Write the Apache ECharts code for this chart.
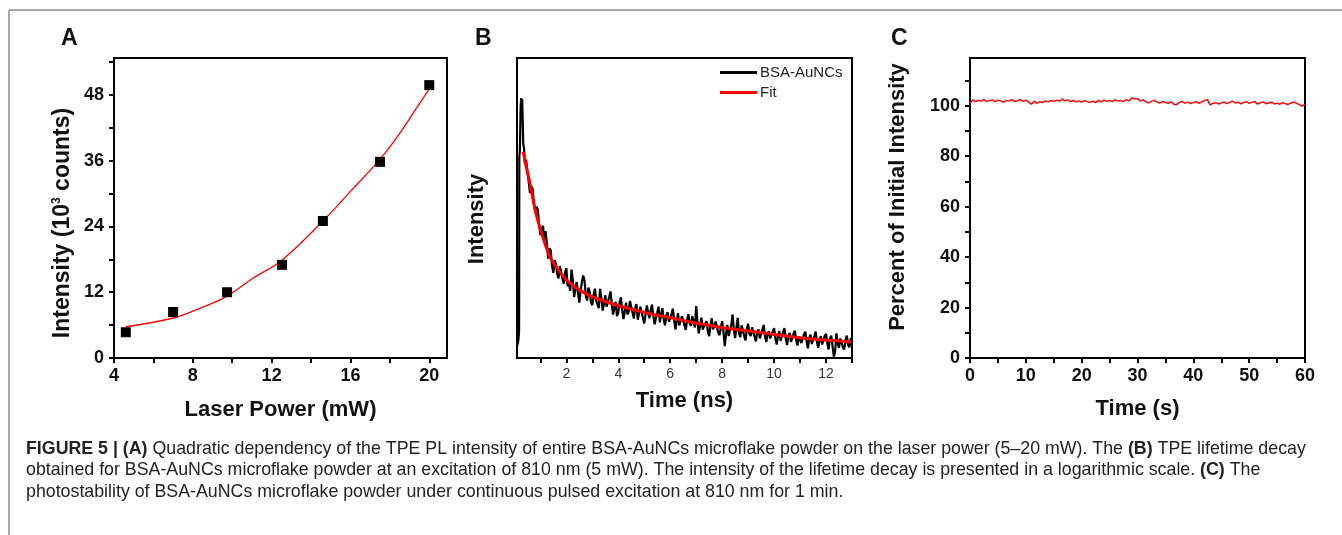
<!DOCTYPE html>
<html>
<head>
<meta charset="utf-8">
<script src="https://cdn.jsdelivr.net/npm/echarts@6/dist/echarts.min.js"></script>
<style>
html,body{margin:0;padding:0;background:#fff;}
#chart{width:1342px;height:535px;}
</style>
</head>
<body>
<div id="chart"></div>
<script>
// ---------- Panel A ----------
const powerA = [4.6, 7.0, 9.74, 12.53, 14.6, 17.5, 20.0];
const intensityA = [4.7, 8.4, 12.0, 17.0, 25.0, 35.8, 49.8];
const fitPowerA = [4.6, 7.0, 8.37, 9.74, 11.07, 12.5, 14.6, 16.0, 17.5, 18.5, 19.35, 20.0];
const fitIntensityA = [5.7, 7.3, 9.1, 11.3, 14.6, 17.8, 25.0, 30.4, 36.3, 41.0, 45.6, 49.1];
const ticksAx = [4, 8, 12, 16, 20];
const ticksAy = [0, 12, 24, 36, 48];

// ---------- Panel B ----------
const timeB = [0.10,0.15,0.18,0.19,0.21,0.24,0.26,0.28,0.30,0.32,0.34,0.37,0.40,0.45,
  0.5,0.55,0.6,0.65,0.7,0.75,0.8,0.85,0.9,0.95,1.0,1.05,1.1,1.15,1.2,1.25,1.3,1.35,1.4,1.45,1.5,1.55,1.6,1.65,1.7,1.75,1.8,1.85,1.9,1.95,
  2.0,2.05,2.1,2.15,2.2,2.25,2.3,2.35,2.4,2.45,2.5,2.55,2.6,2.65,2.7,2.75,2.8,2.85,2.9,2.95,
  3.0,3.05,3.1,3.15,3.2,3.25,3.3,3.35,3.4,3.45,3.5,3.55,3.6,3.65,3.7,3.75,3.8,3.85,3.9,3.95,
  4.0,4.05,4.1,4.15,4.2,4.25,4.3,4.35,4.4,4.45,4.5,4.55,4.6,4.65,4.7,4.75,4.8,4.85,4.9,4.95,
  5.0,5.05,5.1,5.15,5.2,5.25,5.3,5.35,5.4,5.45,5.5,5.55,5.6,5.65,5.7,5.75,5.8,5.85,5.9,5.95,
  6.0,6.05,6.1,6.15,6.2,6.25,6.3,6.35,6.4,6.45,6.5,6.55,6.6,6.65,6.7,6.75,6.8,6.85,6.9,6.95,
  7.0,7.05,7.1,7.15,7.2,7.25,7.3,7.35,7.4,7.45,7.5,7.55,7.6,7.65,7.7,7.75,7.8,7.85,7.9,7.95,
  8.0,8.05,8.1,8.15,8.2,8.25,8.3,8.35,8.4,8.45,8.5,8.55,8.6,8.65,8.7,8.75,8.8,8.85,8.9,8.95,
  9.0,9.05,9.1,9.15,9.2,9.25,9.3,9.35,9.4,9.45,9.5,9.55,9.6,9.65,9.7,9.75,9.8,9.85,9.9,9.95,
  10.0,10.05,10.1,10.15,10.2,10.25,10.3,10.35,10.4,10.45,10.5,10.55,10.6,10.65,10.7,10.75,10.8,10.85,10.9,10.95,
  11.0,11.05,11.1,11.15,11.2,11.25,11.3,11.35,11.4,11.45,11.5,11.55,11.6,11.65,11.7,11.75,11.8,11.85,11.9,11.95,
  12.0,12.05,12.1,12.15,12.2,12.25,12.3,12.35,12.4,12.45,12.5,12.55,12.6,12.65,12.7,12.75,12.8,12.85,12.9,12.95,13.0];
const countsB = [12,13,15,220,240,470,540,500,530,380,270,250,200,210,
  175,150,126,140,134,108,95,102,98,78,66,72,76,62,70,58,46,54,52,41,37,45,42.6,36,33.9,41,40,34,31.3,37,
  39.7,30,32,28,38.8,33,25.5,29,32.1,27,23.4,28,32.1,35.5,32.8,26,24.1,29.5,27.5,23.5,
  22.5,26.5,29,24,23.7,21.5,28.9,25,20.7,23,26.2,22,21.6,25.5,27.8,23,19.5,21.5,23.7,19,
  20.1,23.5,25.4,21,18.2,20.5,23.4,19.5,20.3,24,23.7,20,18.3,21.5,22.9,18,18.5,22,21.6,18.5,
  17.0,19.5,22.4,20,18.4,21,22.7,19,16.8,18.5,20.1,22,17.3,19.5,21.5,18,16.5,19,20.2,17.5,
  17.0,19.5,21.3,18,15.5,17.5,19.9,16.5,16.1,19,18.7,16.5,15.4,18,19.6,17,16.4,19,18.6,16,
  22.2,17.5,14.6,16.5,18.6,15.5,15.1,17,17.6,15,14.0,16.5,18.4,15.5,15.2,17.5,17.3,14.8,14.2,16,
  17.6,15,12.0,14.5,16.6,14,14.4,16.5,19.5,15.5,13.6,16,18.5,14.5,13.8,16.5,16.1,14,13.1,15.5,
  16.9,14.5,14.0,16,16.4,13.8,12.9,15,15.5,13.5,13.2,15.5,16.6,14,12.8,14.5,15.1,13.5,13.1,15,
  15.8,13.5,12.3,14,15.1,13,13.1,15,15.8,13.5,12.2,14,14.7,12.8,12.5,14.5,15.2,13.2,12.1,13.8,
  14.2,12.6,12.5,14.3,15.0,13,11.6,13.5,14.3,12.4,12.1,14,15.0,12.8,11.7,13.2,14.0,12.3,12.1,14,
  14.5,12.5,11.4,13.5,14.1,12,10.2,11,14.6,12.5,11.7,13.5,13.7,11.8,11.4,13.2,14.1,12.2,11.8,13.5,13.4];
const fitTimeB = [0.34, 0.45, 0.57, 0.7, 0.83, 1.0, 1.22, 1.4, 1.6, 2.0, 2.5, 3.0, 4.05, 5.08, 6.1, 7.14, 8.17, 9.19, 10.22, 11.25, 12.97];
const fitCountsB = [237, 190, 154, 118, 92, 72, 55, 46, 40.6, 33.1, 28.4, 25.6, 22.2, 20.0, 18.4, 16.9, 15.8, 15.0, 14.2, 13.5, 12.8];
const ticksBx = [2, 4, 6, 8, 10, 12];

// ---------- Panel C ----------
const timeC = [0,0.5,1,1.5,2,2.5,3,3.5,4,4.5,5,5.5,6,6.5,7,7.5,8,8.5,9,9.5,10,10.5,11,11.5,12,12.5,13,13.5,14,14.5,
  15,15.5,16,16.5,17,17.5,18,18.5,19,19.5,20,20.5,21,21.5,22,22.5,23,23.5,24,24.5,25,25.5,26,26.5,27,27.5,28,28.5,29,29.5,
  30,30.5,31,31.5,32,32.5,33,33.5,34,34.5,35,35.5,36,36.5,37,37.5,38,38.5,39,39.5,40,40.5,41,41.5,42,42.5,43,43.5,44,44.5,
  45,45.5,46,46.5,47,47.5,48,48.5,49,49.5,50,50.5,51,51.5,52,52.5,53,53.5,54,54.5,55,55.5,56,56.5,57,57.5,58,58.5,59,59.5,60];
const percentC = [101.0,102.3,101.6,102.1,101.8,102.4,101.7,102.0,102.3,101.6,102.2,101.9,101.3,102.1,101.8,102.4,101.6,101.9,102.5,101.7,
  102.2,101.4,100.6,101.8,100.9,101.6,101.2,101.9,101.5,102.1,101.7,102.2,101.8,102.6,101.9,102.3,101.6,102.1,101.5,101.9,
  101.4,102.0,101.6,101.3,101.8,101.2,102.1,101.5,102.2,101.7,102.0,101.6,102.3,101.8,102.1,101.6,102.4,101.9,103.2,102.6,
  102.8,101.9,102.3,101.5,101.1,101.8,102.1,101.4,101.0,101.6,101.3,100.9,101.5,100.6,100.4,101.3,101.7,101.0,101.4,100.8,
  101.2,101.6,100.9,101.5,102.1,102.4,100.3,100.9,101.2,100.7,101.0,101.5,100.8,101.3,101.8,101.1,101.4,100.7,101.2,101.6,
  100.9,101.3,101.7,100.6,101.2,101.5,100.8,101.1,101.4,100.7,101.0,100.6,101.2,100.8,100.5,101.1,101.4,100.9,100.4,99.8,100.5];
const ticksCx = [0, 10, 20, 30, 40, 50, 60];
const ticksCy = [0, 20, 40, 60, 80, 100];

const zip = (a, b) => a.map((v, i) => [v, b[i]]);
const range = (a, b, s) => { const r = []; for (let v = a; v <= b + 1e-9; v += s) r.push(+v.toFixed(6)); return r; };

const FONT = '"Liberation Sans", Arial, sans-serif';
const axisLine = { show: true, onZero: false, lineStyle: { color: '#000', width: 2 } };
const boldLabel = { color: '#111', fontFamily: FONT, fontWeight: 'bold', fontSize: 18 };
const titleStyle = { color: '#111', fontFamily: FONT, fontWeight: 'bold', fontSize: 22 };

const chart = echarts.init(document.getElementById('chart'), null, { renderer: 'canvas' });
const gridBase = { show: true, borderColor: '#000', borderWidth: 2, backgroundColor: 'transparent', containLabel: false };
const CAP = 17.8;
const capRich = { b: { fontWeight: 'bold', fontSize: CAP, fontFamily: FONT, fill: '#222' } };

chart.setOption({
  animation: false,
  backgroundColor: '#fff',
  grid: [
    Object.assign({ left: 114, top: 58, width: 333, height: 300 }, gridBase),
    Object.assign({ left: 517, top: 58, width: 335, height: 300 }, gridBase),
    Object.assign({ left: 970, top: 58, width: 335, height: 300 }, gridBase)
  ],
  xAxis: [
    { gridIndex: 0, type: 'value', min: 4, max: 20.9,
      axisLine, splitLine: { show: false },
      axisTick: { show: true, inside: false, length: 5, lineStyle: { width: 2, color: '#000' }, customValues: range(4, 20, 2) },
      axisLabel: Object.assign({ margin: 9, customValues: ticksAx }, boldLabel),
      name: 'Laser Power (mW)', nameLocation: 'middle', nameGap: 41, nameTextStyle: titleStyle },
    { gridIndex: 1, type: 'value', min: 0.1, max: 13,
      axisLine, splitLine: { show: false },
      axisTick: { show: true, inside: false, length: 5, lineStyle: { width: 2, color: '#000' }, customValues: range(1, 13, 1) },
      axisLabel: { margin: 9, customValues: ticksBx, color: '#333', fontFamily: FONT, fontSize: 14 },
      name: 'Time (ns)', nameLocation: 'middle', nameGap: 32, nameTextStyle: titleStyle },
    { gridIndex: 2, type: 'value', min: 0, max: 60,
      axisLine, splitLine: { show: false },
      axisTick: { show: true, inside: false, length: 5, lineStyle: { width: 2, color: '#000' }, customValues: range(0, 60, 5) },
      axisLabel: Object.assign({ margin: 9, customValues: ticksCx }, boldLabel),
      name: 'Time (s)', nameLocation: 'middle', nameGap: 40, nameTextStyle: titleStyle }
  ],
  yAxis: [
    { gridIndex: 0, type: 'value', min: 0, max: 54.75,
      axisLine, splitLine: { show: false },
      axisTick: { show: true, inside: false, length: 5, lineStyle: { width: 2, color: '#000' }, customValues: range(0, 54, 6) },
      axisLabel: Object.assign({ margin: 10, customValues: ticksAy }, boldLabel),
      name: 'Intensity (10{sup|3} counts)', nameLocation: 'middle', nameGap: 40,
      nameTextStyle: Object.assign({}, titleStyle, { fontSize: 23, padding: [0, 30, 0, 0],
        rich: { sup: { fontSize: 12, fontWeight: 'bold', fontFamily: FONT, color: '#111', verticalAlign: 'top', padding: [0, 0, 10, 0] } } }) },
    { gridIndex: 1, type: 'log', logBase: 10, min: 10, max: 1000,
      axisLine, splitLine: { show: false }, axisTick: { show: false }, axisLabel: { show: false },
      name: 'Intensity', nameLocation: 'middle', nameGap: 29,
      nameTextStyle: Object.assign({}, titleStyle, { padding: [0, 22, 0, 0] }) },
    { gridIndex: 2, type: 'value', min: 0, max: 118.9,
      axisLine, splitLine: { show: false },
      axisTick: { show: true, inside: false, length: 5, lineStyle: { width: 2, color: '#000' }, customValues: range(0, 110, 10) },
      axisLabel: Object.assign({ margin: 10, customValues: ticksCy }, boldLabel),
      name: 'Percent of Initial Intensity', nameLocation: 'middle', nameGap: 61,
      nameTextStyle: Object.assign({}, titleStyle, { padding: [0, 0, 0, 22] }) }
  ],
  legend: {
    data: ['BSA-AuNCs', 'Fit'], orient: 'vertical', left: 720, top: 65,
    itemWidth: 37, itemHeight: 3, itemGap: 5, icon: 'rect',
    textStyle: { fontFamily: FONT, fontSize: 15, color: '#222', padding: [0, 0, 0, -2] },
    padding: 0
  },
  series: [
    { name: 'DataA', type: 'scatter', xAxisIndex: 0, yAxisIndex: 0, data: zip(powerA, intensityA),
      symbol: 'rect', symbolSize: 10, itemStyle: { color: '#000', opacity: 1 }, z: 3 },
    { name: 'FitA', type: 'line', xAxisIndex: 0, yAxisIndex: 0, data: zip(fitPowerA, fitIntensityA),
      smooth: 0.4, showSymbol: false, lineStyle: { color: '#ff0000', width: 1.3 }, z: 2 },
    { name: 'BSA-AuNCs', type: 'line', xAxisIndex: 1, yAxisIndex: 1, data: zip(timeB, countsB),
      showSymbol: false, lineStyle: { color: '#000', width: 2.2 }, itemStyle: { color: '#000' }, z: 2 },
    { name: 'Fit', type: 'line', xAxisIndex: 1, yAxisIndex: 1, data: zip(fitTimeB, fitCountsB),
      smooth: 0.4, showSymbol: false, lineStyle: { color: '#ff0000', width: 3 }, itemStyle: { color: '#ff0000' }, z: 3 },
    { name: 'PhotoC', type: 'line', xAxisIndex: 2, yAxisIndex: 2, data: zip(timeC, percentC),
      showSymbol: false, lineStyle: { color: '#ff0000', width: 1.5 }, z: 2 }
  ],
  graphic: [
    { type: 'line', shape: { x1: 9, y1: 10, x2: 1342, y2: 10 }, style: { stroke: '#8a8a8a', lineWidth: 1.5 } },
    { type: 'line', shape: { x1: 9, y1: 10, x2: 9, y2: 535 }, style: { stroke: '#8a8a8a', lineWidth: 1.5 } },
    { type: 'text', left: 61, top: 27, style: { text: 'A', font: 'bold 23px ' + FONT, fill: '#111' } },
    { type: 'text', left: 475, top: 27, style: { text: 'B', font: 'bold 23px ' + FONT, fill: '#111' } },
    { type: 'text', left: 891, top: 27, style: { text: 'C', font: 'bold 23px ' + FONT, fill: '#111' } },
    { type: 'text', left: 26, top: 440, style: { text: '{b|FIGURE 5 | (A)} Quadratic dependency of the TPE PL intensity of entire BSA-AuNCs microflake powder on the laser power (5–20 mW). The {b|(B)} TPE lifetime decay',
      font: CAP + 'px ' + FONT, fill: '#222', rich: capRich } },
    { type: 'text', left: 26, top: 461, style: { text: 'obtained for BSA-AuNCs microflake powder at an excitation of 810 nm (5 mW). The intensity of the lifetime decay is presented in a logarithmic scale. {b|(C)} The',
      font: CAP + 'px ' + FONT, fill: '#222', rich: capRich } },
    { type: 'text', left: 26, top: 483, style: { text: 'photostability of BSA-AuNCs microflake powder under continuous pulsed excitation at 810 nm for 1 min.',
      font: CAP + 'px ' + FONT, fill: '#222' } }
  ]
});
</script>
</body>
</html>
